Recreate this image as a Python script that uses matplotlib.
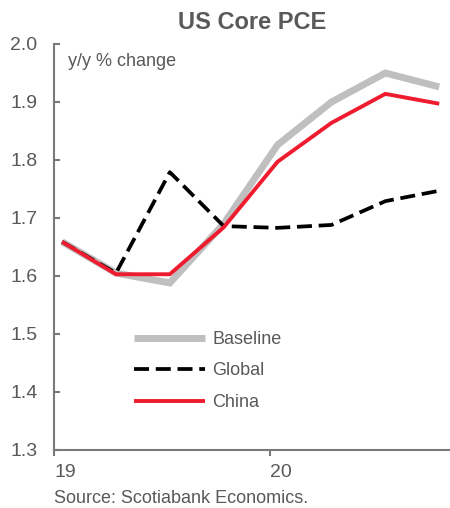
import matplotlib
matplotlib.use("Agg")
import matplotlib.pyplot as plt
import numpy as np

plt.rcParams['font.family'] = ['Liberation Sans', 'DejaVu Sans']

# Quarterly y/y core PCE paths, 2019Q1 - 2020Q4
quarters = ["2019Q1", "2019Q2", "2019Q3", "2019Q4",
            "2020Q1", "2020Q2", "2020Q3", "2020Q4"]
baseline = [1.659, 1.605, 1.588, 1.690, 1.826, 1.900, 1.950, 1.926]
global_ = [1.659, 1.605, 1.779, 1.686, 1.683, 1.688, 1.729, 1.747]
china = [1.659, 1.603, 1.603, 1.684, 1.797, 1.864, 1.914, 1.897]

year_labels = ["19", "20"]
y_ticks = [1.3, 1.4, 1.5, 1.6, 1.7, 1.8, 1.9, 2.0]

TEXT = "#595959"
AXIS = "#7a7a7a"

fig = plt.figure(figsize=(4.5, 5.08), dpi=100)
ax = fig.add_axes([0.12, 0.1142, 0.88, 0.7992])

# quarter positions, plotted a little after the start of each quarter
x = np.arange(len(quarters)) + 0.15

ax.plot(x, baseline, color="#bfbfbf", lw=5.0, solid_joinstyle="miter",
        solid_capstyle="butt", label="Baseline", zorder=2)
ax.plot(x, global_, color="black", lw=2.7, dashes=(4.0, 1.8),
        dash_capstyle="butt", label="Global", zorder=3)
ax.plot(x, china, color="#ee1c2e", lw=2.8, solid_joinstyle="miter",
        solid_capstyle="butt", label="China", zorder=4)

ax.set_ylim(1.3, 2.0)
ax.set_yticks(y_ticks)
ax.set_yticklabels([f"{v:.1f}" for v in y_ticks])
ax.set_xlim(0, 7.35)
ax.set_xticks([0, 4])
ax.set_xticklabels(year_labels, ha="left")

for s in ["top", "right"]:
    ax.spines[s].set_visible(False)
for s in ["left", "bottom"]:
    ax.spines[s].set_color(AXIS)
    ax.spines[s].set_linewidth(1.5)

ax.tick_params(axis="y", direction="in", length=4.5, width=1.5, color=AXIS,
               labelsize=14, labelcolor=TEXT, pad=12)
ax.tick_params(axis="x", direction="out", length=4, width=1.5, color=AXIS,
               labelsize=14, labelcolor=TEXT, pad=6)

ax.text(0.035, 0.956, "y/y % change", transform=ax.transAxes,
        fontsize=13, color=TEXT, ha="left", va="center")

leg = ax.legend(loc="upper left", bbox_to_anchor=(0.203, 0.293),
                frameon=False, fontsize=13, handlelength=3.9,
                handletextpad=0.4, labelspacing=0.8, borderpad=0,
                borderaxespad=0)
for t in leg.get_texts():
    t.set_color(TEXT)

fig.text(0.56, 0.955, "US Core PCE", fontsize=17, fontweight="bold",
         color=TEXT, ha="center", va="center")
fig.text(0.12, 0.018, "Source: Scotiabank Economics.", fontsize=13,
         color=TEXT, ha="left", va="center")

fig.savefig("out.png", dpi=100)
